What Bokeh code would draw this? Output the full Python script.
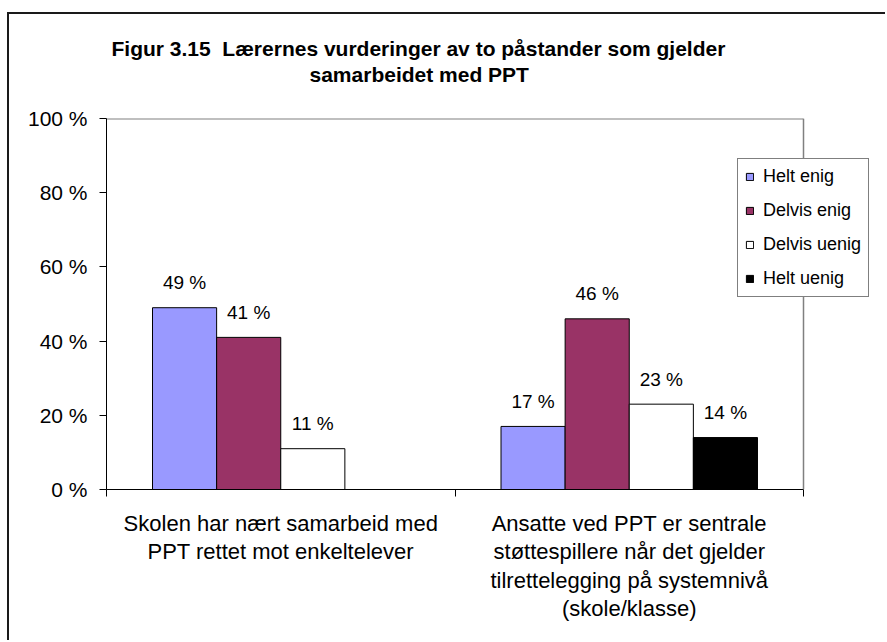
from bokeh.plotting import figure
from bokeh.models import (ColumnDataSource, Range1d, FixedTicker, Title, Span)
from bokeh.transform import dodge
from bokeh.core.properties import value
from bokeh.embed import file_html
from bokeh.resources import INLINE

# ---- data ----
categories = [
    "Skolen har nært samarbeid med\nPPT rettet mot enkeltelever",
    "Ansatte ved PPT er sentrale\nstøttespillere når det gjelder\ntilrettelegging på systemnivå\n(skole/klasse)",
]
series = ["Helt enig", "Delvis enig", "Delvis uenig", "Helt uenig"]
helt_enig = [49, 17]
delvis_enig = [41, 46]
delvis_uenig = [11, 23]
helt_uenig = [0, 14]
colors = ["#9999FF", "#993366", "#FFFFFF", "#000000"]
y_ticks = [0, 20, 40, 60, 80, 100]
y_tick_labels = ["0 %", "20 %", "40 %", "60 %", "80 %", "100 %"]
title_lines = ["Figur 3.15 \u00a0Lærernes vurderinger av to påstander som gjelder",
               "samarbeidet med PPT"]

values = [helt_enig, delvis_enig, delvis_uenig, helt_uenig]
FONT = "Liberation Sans"

# layout (pixels)
W, H = 878, 628
ML, MT, MB, MR = 97, 104, 153, 9
plot_w = 697                      # width of the chart's plot area
frame_w = W - ML - MR
n = len(categories)
x_end = n * frame_w / plot_w

p = figure(width=W, height=H, x_range=Range1d(0, x_end),
           y_range=Range1d(0, y_ticks[-1]), output_backend="svg",
           toolbar_location=None, min_border_left=ML, min_border_right=MR,
           min_border_top=MT, min_border_bottom=MB)
p.styles = {"margin-left": "7px", "margin-top": "12px",
            "border-left": "2px solid #1a1a1a", "border-top": "2px solid #1a1a1a"}
p.background_fill_color = "white"
p.border_fill_color = "white"
p.outline_line_color = None
p.xgrid.visible = False
p.ygrid.visible = False

# plot-area border (top and right, grey)
p.line(x=[0, n], y=[y_ticks[-1], y_ticks[-1]], line_color="#808080", line_width=2)
p.add_layout(Span(location=n, dimension="height", line_color="#808080", line_width=1.5))

centers = [i + 0.5 for i in range(n)]
w = 0.184
for j, (name, vals, col) in enumerate(zip(series, values, colors)):
    off = (j - 1.5) * w
    src = ColumnDataSource(dict(xc=centers, top=vals))
    p.vbar(x=dodge("xc", off, range=p.x_range), top="top", width=w, source=src,
           fill_color=col, line_color="black", line_width=1, legend_label=name)
    lab_x = [c for c, v in zip(centers, vals) if v > 0]
    lab_v = [v for v in vals if v > 0]
    lsrc = ColumnDataSource(dict(xc=lab_x, y=lab_v, t=[f"{v} %" for v in lab_v]))
    p.text(x=dodge("xc", off, range=p.x_range), y="y", text="t", source=lsrc,
           text_align="center", text_baseline="alphabetic", y_offset=-25,
           text_font=value(FONT), text_font_size="19px", text_color="black")

# y axis
ya = p.yaxis[0]
ya.ticker = FixedTicker(ticks=y_ticks, minor_ticks=[])
ya.major_label_overrides = {t: l for t, l in zip(y_ticks, y_tick_labels)}
ya.major_tick_in = 0
ya.major_tick_out = 7
ya.minor_tick_in = 0
ya.minor_tick_out = 0
ya.major_label_standoff = 12
ya.major_label_text_font = FONT
ya.major_label_text_font_size = "21px"
ya.major_label_text_color = "black"
ya.axis_line_color = "black"
ya.major_tick_line_color = "black"

# x axis
xa = p.xaxis[0]
xa.bounds = (0, n)
xa.ticker = FixedTicker(ticks=centers, minor_ticks=list(range(n + 1)))
xa.major_label_overrides = {c: l for c, l in zip(centers, categories)}
xa.major_tick_in = 0
xa.major_tick_out = 0
xa.minor_tick_in = 0
xa.minor_tick_out = 7
xa.minor_tick_line_color = "black"
xa.major_label_standoff = 14
xa.major_label_text_font = FONT
xa.major_label_text_font_size = "22px"
xa.major_label_text_line_height = 1.14
xa.major_label_text_color = "black"
xa.axis_line_color = "black"

# legend
lg = p.legend[0]
lg.location = (631, 192)
lg.label_text_font = FONT
lg.label_text_font_size = "18px"
lg.label_text_color = "black"
lg.glyph_width = 9
lg.glyph_height = 9
lg.label_standoff = 9
lg.label_height = 20
lg.spacing = 13
lg.padding = 7
lg.margin = 0
lg.border_line_color = "black"
lg.border_line_width = 1
lg.background_fill_color = "white"
lg.background_fill_alpha = 1.0

# title: spacer nearest the plot, then the two centred lines
p.add_layout(Title(text=" ", text_font_size="1px", standoff=30), "above")
for txt, off, so in [(title_lines[1], 203, 0), (title_lines[0], 5, 2)]:
    p.add_layout(Title(text=txt, align="left", offset=off, standoff=so,
                       text_font=FONT, text_font_size="21px",
                       text_font_style="bold", text_color="black"), "above")

open("out.html", "w").write(file_html(p, INLINE))
